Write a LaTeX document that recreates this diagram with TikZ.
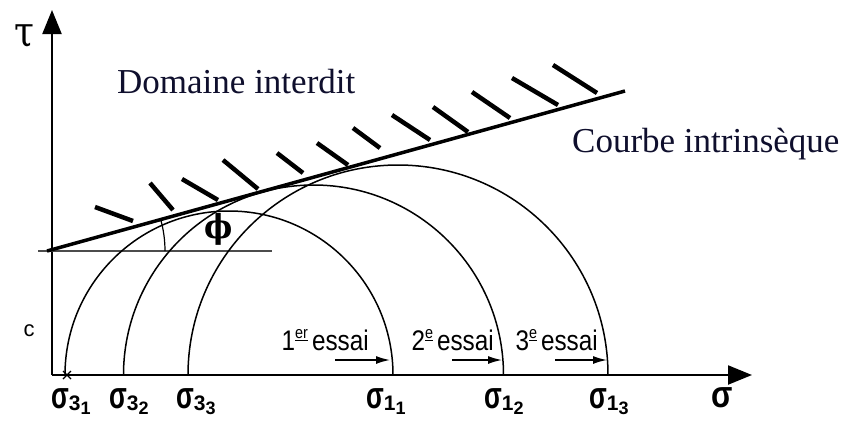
\documentclass[tikz,border=0pt]{standalone}
\usepackage{graphicx}
\usepackage{fontspec}
\setmainfont{Liberation Serif}
\newfontfamily\lsans{Liberation Sans}
\newfontfamily\dserif{DejaVu Serif}
\usetikzlibrary{arrows.meta}
\definecolor{navy}{RGB}{15,15,45}
\newcommand{\sgm}[2]{{\lsans\bfseries\fontsize{26}{26}\selectfont\scalebox{1}[1.45]{σ}\fontsize{21}{21}\selectfont\raisebox{-2pt}{#1}\fontsize{18}{18}\selectfont\raisebox{-6pt}{#2}}}
\newcommand{\essaitxt}[2]{{\lsans\fontsize{27}{27}\selectfont\scalebox{0.9}[1.05]{#1\raisebox{0.42em}{\fontsize{16}{16}\selectfont\underline{#2}}\,essai}}}
\begin{document}
\begin{tikzpicture}[x=1pt,y=-1pt,
  axis/.style={line width=2.2pt,-{Triangle[length=24pt,width=19pt]}},
  circ/.style={line width=1.5pt},
  hatch/.style={line width=4.5pt},
  intr/.style={line width=3.5pt},
  essarrow/.style={line width=1.5pt,-{Latex[length=14pt,width=8pt]}},
  big/.style={text=navy,font=\fontsize{35}{35}\selectfont,inner sep=0pt},
  lab/.style={inner sep=0pt}]
\useasboundingbox (0,0) rectangle (856,421);
\fill[white] (0,0) rectangle (856,421);

% axes
\coordinate (O) at (52,375);
\coordinate (ytip) at (52,10);
\coordinate (xtip) at (752,375);
\draw[axis] (O) -- (ytip);
\draw[axis] (O) -- (xtip);

% horizontal reference line at c
\coordinate (h1) at (38,251);
\coordinate (h2) at (272,251);
\draw[line width=1.3pt,black!70] (h1) -- (h2);

% Mohr circles
\draw[circ] (65,375) arc[start angle=180,end angle=360,radius=164];
\draw[circ] (123.5,375) arc[start angle=180,end angle=360,radius=190];
\draw[circ] (188,375) arc[start angle=180,end angle=360,radius=210];

% intrinsic curve
\coordinate (A) at (47,251);
\coordinate (B) at (625,91);
\draw[intr] (A) -- (B);

% angle phi
\draw[line width=1.2pt] (A) ++(118,0) arc[start angle=0,end angle=-15.5,radius=118];
\node[lab,font=\dserif\bfseries\fontsize{30}{30}\selectfont] (phi) at (219,229) {\scalebox{1}[1.1]{ϕ}};

% hatches
\foreach \a/\b/\c/\d in {95/207/133/221,150/183/173/210,182/179/218/200,223/160/258/189,
  277/153/303/173,317/143/348/165,353/128/380/148,392/115/430/140,433/107/468/132,
  472/92/510/118,512/78/558/105,553/65/597/93}
  \draw[hatch] (\a,\b) -- (\c,\d);

% star mark at sigma3_1
\draw[line width=1.3pt] (63,371) -- (71,379) (63,379) -- (71,371) (62,375) -- (72,375);

% trial arrows
\coordinate (e1a) at (335,360); \coordinate (e1b) at (390,360);
\coordinate (e2a) at (452,360); \coordinate (e2b) at (502,360);
\coordinate (e3a) at (555,360); \coordinate (e3b) at (607,360);
\draw[essarrow] (e1a) -- (e1b);
\draw[essarrow] (e2a) -- (e2b);
\draw[essarrow] (e3a) -- (e3b);
\node[lab,anchor=base east] (t1) at (369,350) {\essaitxt{1}{er}};
\node[lab,anchor=base east] (t2) at (494,350) {\essaitxt{2}{e}};
\node[lab,anchor=base east] (t3) at (598,350) {\essaitxt{3}{e}};

% axis labels
\node[lab] (tau) at (24,36) {\dserif\fontsize{30}{30}\selectfont\scalebox{1.2}[1.4]{τ}};
\node[lab] (c) at (29,331) {\lsans\fontsize{22}{22}\selectfont c};
\node[lab,anchor=base west] (s31) at (51,408) {\sgm{3}{1}};
\node[lab,anchor=base west] (s32) at (109,408) {\sgm{3}{2}};
\node[lab,anchor=base west] (s33) at (176,408) {\sgm{3}{3}};
\node[lab,anchor=base west] (s11) at (366,408) {\sgm{1}{1}};
\node[lab,anchor=base west] (s12) at (484,408) {\sgm{1}{2}};
\node[lab,anchor=base west] (s13) at (589,408) {\sgm{1}{3}};
\node[lab,anchor=base west] (sig) at (711,407) {\lsans\bfseries\fontsize{26}{26}\selectfont\scalebox{1.2}[1.45]{σ}};

% texts
\node[big,anchor=base west] (dom) at (117,93) {Domaine interdit};
\node[big,anchor=base west] (cou) at (572,152) {Courbe intrinsèque};
\end{tikzpicture}
\end{document}
